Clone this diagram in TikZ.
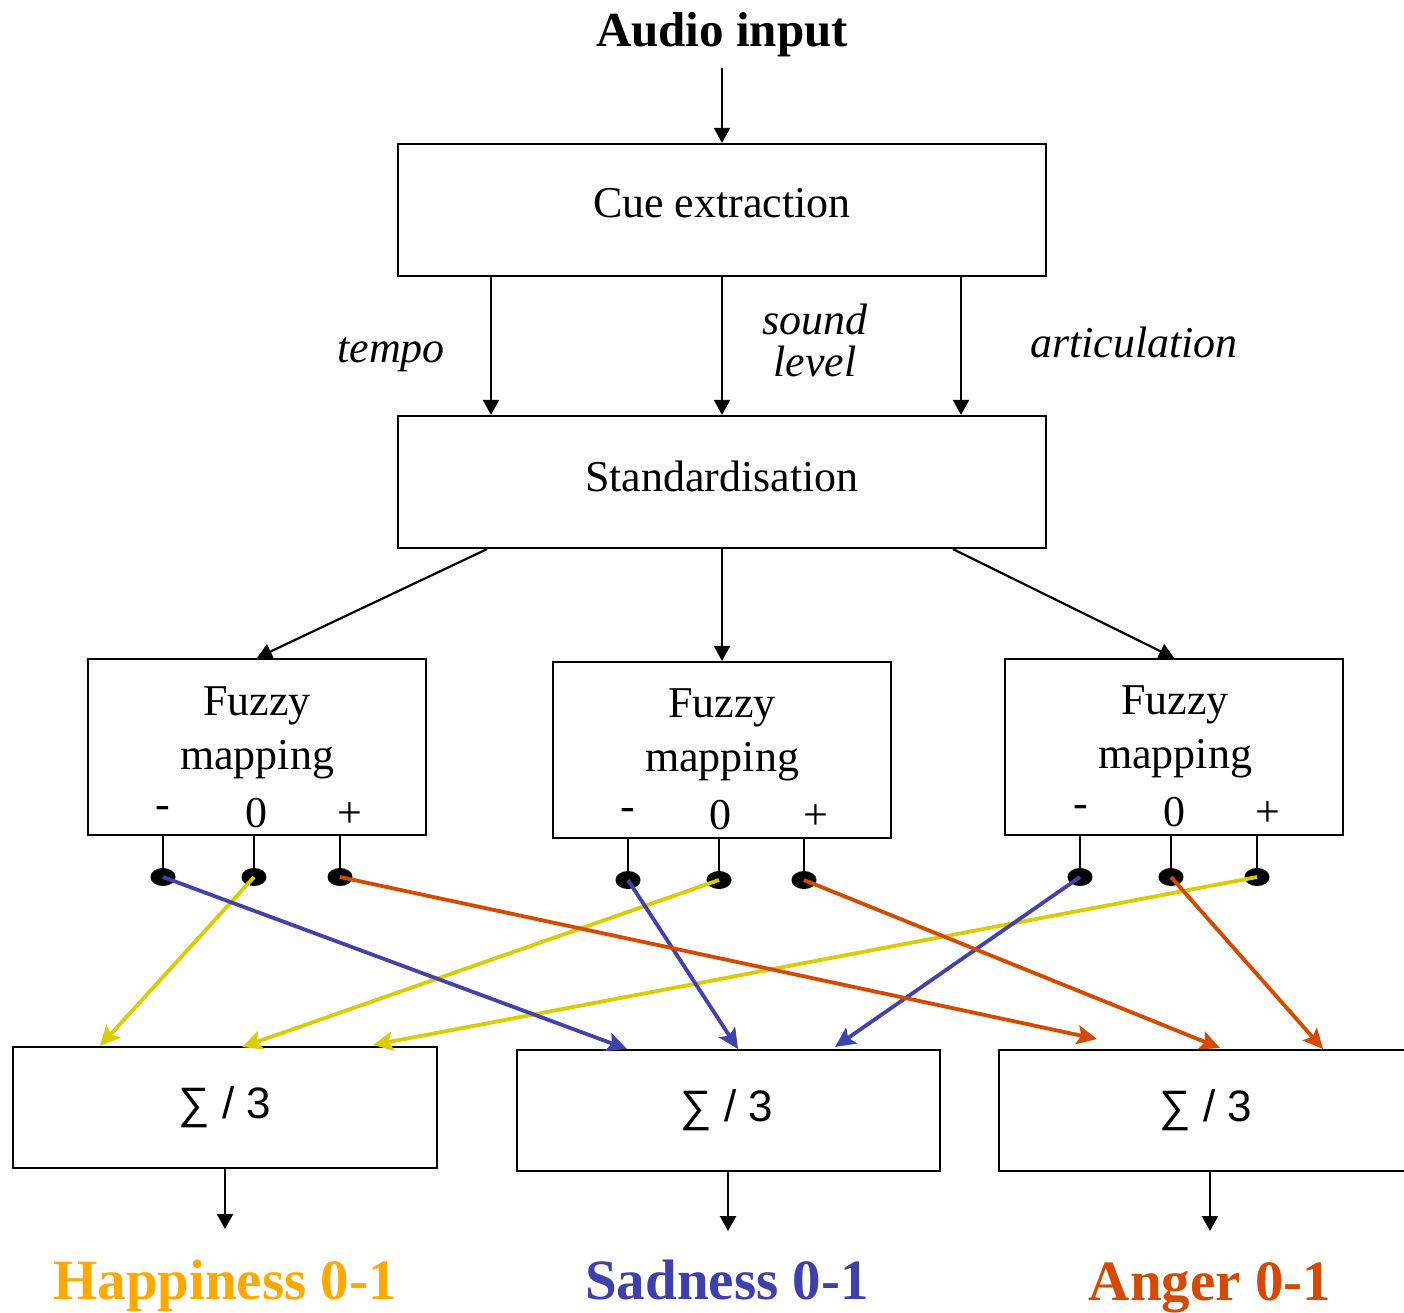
\documentclass[tikz,border=0pt]{standalone}
\usepackage{fontspec}
\setmainfont{Liberation Serif}
\newfontfamily\sumfont{Liberation Sans}
\usetikzlibrary{arrows.meta,shapes.geometric}
\definecolor{happy}{RGB}{255,168,0}
\definecolor{sad}{RGB}{64,64,170}
\definecolor{anger}{RGB}{214,74,0}
\definecolor{yel}{RGB}{217,204,0}
\definecolor{blu}{RGB}{66,66,172}
\definecolor{org}{RGB}{214,74,0}
\begin{document}
\begin{tikzpicture}[x=1pt,y=-1pt,
  blk/.style={draw,line width=2.2pt,inner sep=0pt},
  arr/.style={line width=2.2pt,-{Triangle[length=15pt,width=16pt]}},
  carr/.style={line width=3.8pt,-{Stealth[length=20pt,width=19pt,inset=4pt]}},
  stem/.style={line width=2.2pt},
  dot/.style={ellipse,fill=black,minimum width=25pt,minimum height=18pt,inner sep=0pt},
  lbl/.style={anchor=base,inner sep=0pt,font=\fontsize{44}{50}\selectfont},
  cue/.style={anchor=base,inner sep=0pt,font=\fontsize{44}{44}\selectfont\itshape},
  res/.style={anchor=base,inner sep=0pt,font=\fontsize{57}{60}\selectfont\bfseries},
  sumt/.style={anchor=base,inner sep=0pt,font=\fontsize{44}{50}\sumfont}]
\useasboundingbox (0,0) rectangle (1404,1312);

% input and first two stages
\node[anchor=base,inner sep=0pt,font=\fontsize{49}{50}\selectfont\bfseries] (in) at (722,46) {Audio input};
\node[blk,minimum width=648pt,minimum height=132pt] (cue) at (722,210) {};
\node[lbl] at (722,217) {Cue extraction};
\node[blk,minimum width=648pt,minimum height=132pt] (std) at (722,482) {};
\node[lbl] at (722,491) {Standardisation};
\coordinate (inarr) at (722,68);
\draw[arr] (inarr) -- (cue.north);

% cue channels
\draw[arr] (cue.south -| 491,0) -- (std.north -| 491,0);
\draw[arr] (cue.south) -- (std.north);
\draw[arr] (cue.south -| 961,0) -- (std.north -| 961,0);
\node[cue] at (391,362) {tempo};
\node[cue] at (815,334) {sound};
\node[cue] at (815,376) {level};
\node[cue] at (1134,357) {articulation};

% fuzzy mapping blocks
\node[blk,minimum width=338pt,minimum height=176pt] (f1) at (257,747) {};
\node[blk,minimum width=338pt,minimum height=176pt] (f2) at (722,750) {};
\node[blk,minimum width=338pt,minimum height=176pt] (f3) at (1174,747) {};
\draw[arr] (std.south -| 487,0) -- (f1.north);
\draw[arr] (std.south) -- (f2.north);
\draw[arr] (std.south -| 953,0) -- (f3.north);

\foreach \b/\x/\y/\m/\z/\p in {f1/257/0/163/256/350, f2/722/2/628/720/816, f3/1175/-1/1081/1174/1268}{
  \node[lbl] at (\x,715+\y) {Fuzzy};
  \node[lbl] at (\x,769+\y) {mapping};
  \node[lbl] at (\m,818+\y) {-};
  \node[lbl] at (\z,827+\y) {0};
  \node[lbl] at (\p,827+\y) {+};
}

% output terminals
\node[dot] (d1m) at (163,877) {};
\node[dot] (d1z) at (254,877) {};
\node[dot] (d1p) at (340,877) {};
\node[dot] (d2m) at (628,880) {};
\node[dot] (d2z) at (719,880) {};
\node[dot] (d2p) at (804,880) {};
\node[dot] (d3m) at (1080,877) {};
\node[dot] (d3z) at (1171,877) {};
\node[dot] (d3p) at (1257,877) {};
\foreach \b/\d in {f1/d1m,f1/d1z,f1/d1p,f2/d2m,f2/d2z,f2/d2p,f3/d3m,f3/d3z,f3/d3p}
  \draw[stem] (\b.south -| \d) -- (\d.center);

% averaging blocks
\node[blk,minimum width=424pt,minimum height=121pt] (s1) at (225,1107.5) {};
\node[blk,minimum width=423pt,minimum height=121pt] (s2) at (728.5,1110.5) {};
\node[blk,minimum width=423pt,minimum height=121pt] (s3) at (1210.5,1110.5) {};
\node[sumt] at (225,1118) {∑ / 3};
\node[sumt] at (727,1121) {∑ / 3};
\node[sumt] at (1206,1121) {∑ / 3};

% weighted connections
\coordinate (h1) at (100,1046);
\coordinate (h2) at (242,1047);
\coordinate (h3) at (373,1045);
\coordinate (b1) at (627,1049);
\coordinate (b2) at (738,1049);
\coordinate (b3) at (835,1047);
\coordinate (a1) at (1097,1039);
\coordinate (a2) at (1220,1048);
\coordinate (a3) at (1323,1049);
\draw[carr,yel] (d1z.center) -- (h1);
\draw[carr,yel] (d2z.center) -- (h2);
\draw[carr,yel] (d3p.center) -- (h3);
\draw[carr,blu] (d1m.center) -- (b1);
\draw[carr,blu] (d2m.center) -- (b2);
\draw[carr,blu] (d3m.center) -- (b3);
\draw[carr,org] (d1p.center) -- (a1);
\draw[carr,org] (d2p.center) -- (a2);
\draw[carr,org] (d3z.center) -- (a3);

% results
\coordinate (o1) at (225,1229);
\coordinate (o2) at (728,1231);
\coordinate (o3) at (1210,1231);
\draw[arr] (s1.south) -- (o1);
\draw[arr] (s2.south -| o2) -- (o2);
\draw[arr] (s3.south -| o3) -- (o3);
\node[res,text=happy] (hap) at (225,1299) {Happiness 0-1};
\node[res,text=sad] (sadn) at (727,1299) {Sadness 0-1};
\node[res,text=anger] (ang) at (1210,1300) {Anger 0-1};
\end{tikzpicture}
\end{document}
